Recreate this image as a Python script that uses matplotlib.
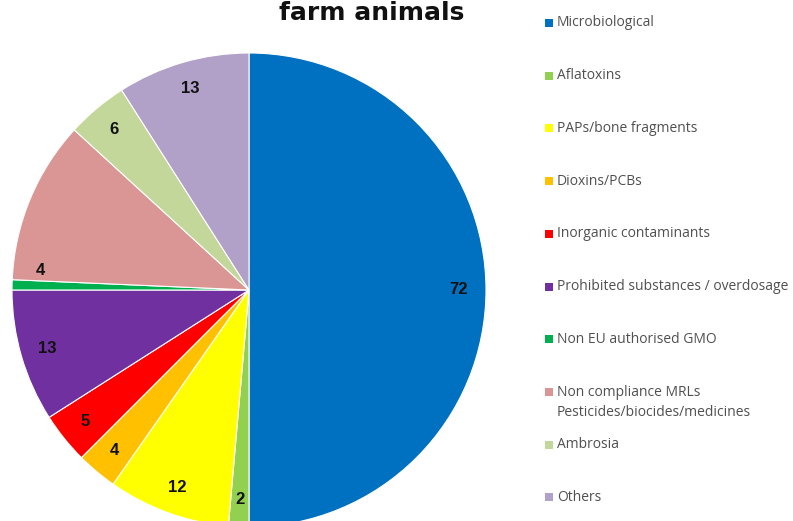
import numpy as np
import matplotlib
matplotlib.use("Agg")
from matplotlib import pyplot as plt
from matplotlib.patches import Rectangle

categories = ["Microbiological", "Aflatoxins", "PAPs/bone fragments", "Dioxins/PCBs",
              "Inorganic contaminants", "Prohibited substances / overdosage",
              "Non EU authorised GMO",
              "Non compliance MRLs\nPesticides/biocides/medicines",
              "Ambrosia", "Others"]
values = [72, 2, 12, 4, 5, 13, 1, 16, 6, 13]
# data labels as printed on the chart (MRLs slice has none)
value_labels = ["72", "2", "12", "4", "5", "13", "4", "", "6", "13"]
colors = ["#0070C0", "#92D050", "#FFFF00", "#FFC000", "#FF0000", "#7030A0",
          "#00B050", "#DA9694", "#C4D79B", "#B1A0C7"]

W, H = 793, 521
fig = plt.figure(figsize=(W / 100, H / 100), dpi=100)

# pie axes placed so the circle sits at (249, 290) px with radius 237 px
cx, cy, r = 249, 290, 237
ax = fig.add_axes([(cx - r) / W, (H - cy - r) / H, 2 * r / W, 2 * r / H])
wedges, _ = ax.pie(values, colors=colors, startangle=90, counterclock=False,
                   wedgeprops=dict(edgecolor="white", linewidth=0.8))
ax.set_xlim(-1, 1)
ax.set_ylim(-1, 1)
ax.set_aspect("auto")
ax.axis("off")

for w, v, lab in zip(wedges, values, value_labels):
    if not lab:
        continue
    mid = (w.theta1 + w.theta2) / 2
    if v < 2:
        # thin slice: label sits just above it
        mid -= 4
    ang = np.deg2rad(mid)
    ax.text(0.885 * np.cos(ang), 0.885 * np.sin(ang), lab, ha="center", va="center",
            fontsize=12, fontweight="bold", family="Liberation Sans", color="#111111")

fig.text(372 / W, 1 - 20 / H, "farm animals", ha="center", va="baseline",
         fontsize=18, fontweight="bold", family="DejaVu Sans", color="#111111")

# legend drawn by hand to keep the fixed row spacing of the original
for i, (name, c) in enumerate(zip(categories, colors)):
    y = 23 + i * 52.7
    fig.patches.append(Rectangle((545 / W, 1 - (y + 4) / H), 8 / W, 8 / H,
                                 transform=fig.transFigure, facecolor=c,
                                 edgecolor="none"))
    two = "\n" in name
    fig.text(557 / W, 1 - (y - 7) / H if two else 1 - y / H, name, ha="left",
             va="top" if two else "center", fontsize=10, family="Open Sans",
             color="#505050", linespacing=1.45)

fig.savefig("out.png", dpi=100)
